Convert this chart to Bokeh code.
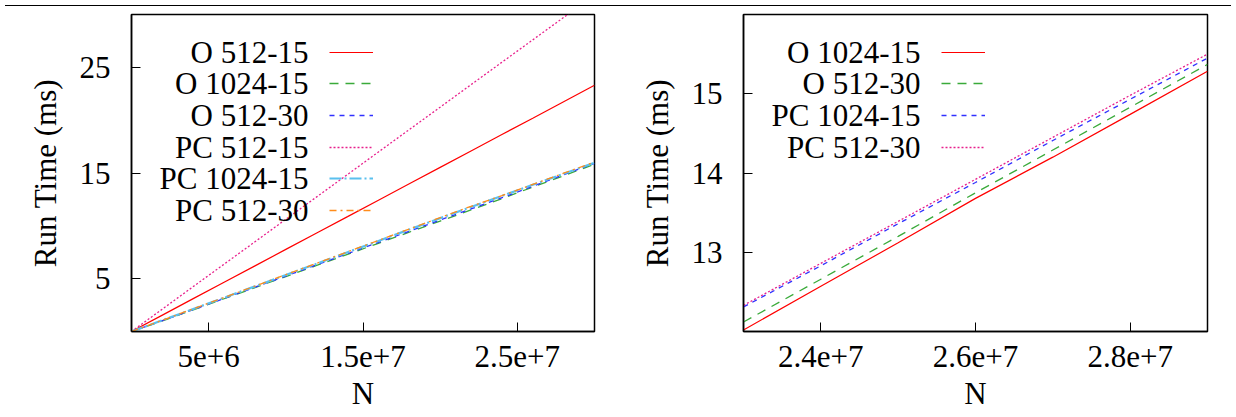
from bokeh.plotting import figure
from bokeh.models import FixedTicker, Label, Legend, LegendItem, Div
from bokeh.layouts import row, column
from bokeh.core.properties import value
from bokeh.embed import file_html
from bokeh.resources import INLINE

# ---------------- data (left panel) ----------------
n_left = [0, 2e6, 4e6, 6e6, 8e6, 1e7, 1.2e7, 1.4e7, 1.6e7, 1.8e7, 2e7, 2.2e7, 2.4e7, 2.6e7, 2.8e7, 3e7]
left_o_512_15 = [0, 1.55, 3.11, 4.66, 6.21, 7.77, 9.32, 10.87, 12.43, 13.98, 15.53, 17.09, 18.64, 20.19, 21.75, 23.3]
left_o_1024_15 = [0, 1.0, 2.05, 3.1, 4.15, 5.2, 6.25, 7.3, 8.35, 9.4, 10.45, 11.5, 12.57, 13.67, 14.74, 15.83]
left_o_512_30 = [0, 1.02, 2.07, 3.13, 4.19, 5.25, 6.31, 7.37, 8.43, 9.49, 10.55, 11.6, 12.66, 13.75, 14.83, 15.91]
left_pc_512_15 = [0, 2.12, 4.25, 6.37, 8.49, 10.62, 12.74, 14.86, 16.99, 19.11, 21.23, 23.36, 25.48, 27.6, 29.72, 31.85]
left_pc_1024_15 = [0, 1.06, 2.13, 3.2, 4.27, 5.35, 6.42, 7.5, 8.57, 9.65, 10.72, 11.79, 12.83, 13.88, 14.93, 15.97]
left_pc_512_30 = [0, 1.07, 2.15, 3.22, 4.3, 5.38, 6.46, 7.54, 8.62, 9.7, 10.78, 11.85, 12.86, 13.92, 14.98, 16.03]
left_names = ["O 512-15", "O 1024-15", "O 512-30", "PC 512-15", "PC 1024-15", "PC 512-30"]
left_xticks = [5000000, 15000000, 25000000]
left_xtick_labels = ["5e+6", "1.5e+7", "2.5e+7"]
left_yticks = [5, 15, 25]

# ---------------- data (right panel) ----------------
n_right = [2.3e7, 2.4e7, 2.5e7, 2.6e7, 2.7e7, 2.8e7, 2.9e7]
right_o_1024_15 = [12.02, 12.57, 13.12, 13.68, 14.2, 14.74, 15.285]
right_o_512_30 = [12.12, 12.66, 13.2, 13.75, 14.29, 14.83, 15.37]
right_pc_1024_15 = [12.31, 12.83, 13.36, 13.88, 14.41, 14.93, 15.45]
right_pc_512_30 = [12.33, 12.86, 13.39, 13.92, 14.45, 14.98, 15.5]
right_names = ["O 1024-15", "O 512-30", "PC 1024-15", "PC 512-30"]
right_xticks = [24000000, 26000000, 28000000]
right_xtick_labels = ["2.4e+7", "2.6e+7", "2.8e+7"]
right_yticks = [13, 14, 15]

FONT = "Liberation Serif"
FS = "31px"


def make_fig(xr, yr, xticks, xlabels, yticks, frame_w, border_left, border_right):
    p = figure(frame_width=frame_w, frame_height=317, x_range=xr, y_range=yr,
               output_backend="svg", toolbar_location=None,
               min_border_left=border_left, min_border_right=border_right,
               min_border_top=3, min_border_bottom=80)
    p.grid.visible = False
    p.outline_line_color = "black"
    p.outline_line_width = 1.5
    p.outline_line_alpha = 1.0
    p.xaxis.ticker = FixedTicker(ticks=xticks)
    p.xaxis.major_label_overrides = {t: l for t, l in zip(xticks, xlabels)}
    p.yaxis.ticker = FixedTicker(ticks=yticks)
    p.xaxis.axis_label = "N"
    p.yaxis.axis_label = "Run Time (ms)"
    for ax in (p.xaxis[0], p.yaxis[0]):
        ax.major_tick_in = 9
        ax.major_tick_out = 0
        ax.minor_tick_in = 0
        ax.minor_tick_out = 0
        ax.axis_line_width = 1.5
        ax.axis_line_color = "black"
        ax.major_tick_line_color = "black"
        ax.major_tick_line_width = 1
        ax.major_label_text_font = FONT
        ax.major_label_text_font_size = FS
        ax.major_label_text_color = "black"
        ax.axis_label_text_font = FONT
        ax.axis_label_text_font_size = FS
        ax.axis_label_text_font_style = "normal"
        ax.axis_label_text_color = "black"
    p.xaxis.major_label_standoff = 14
    p.xaxis.axis_label_standoff = 6
    p.yaxis.major_label_standoff = 21
    p.yaxis.axis_label_standoff = 14
    return p


def add_key(p, names, renderers):
    for i, (name, r) in enumerate(zip(names, renderers)):
        yc = 279.3 - 31.6 * i
        p.add_layout(Label(x=177, y=yc, x_units="screen", y_units="screen",
                           text=name, text_align="right", text_baseline="middle",
                           text_font=FONT, text_font_size=FS, text_color="black"))
        lg = Legend(items=[LegendItem(label=value(" "), renderers=[r])],
                    location=(197.5, yc - 5), glyph_width=44, glyph_height=10,
                    label_height=10, label_width=1, label_standoff=0,
                    label_text_font_size="1px", padding=0, margin=0, spacing=0,
                    border_line_alpha=0, background_fill_alpha=0)
        p.add_layout(lg)


styles = [
    dict(line_color="#ff0000", line_width=1.2, line_dash="solid"),
    dict(line_color="#3aaa3a", line_width=1.3, line_dash="9 7"),
    dict(line_color="#3030ff", line_width=1.3, line_dash="5 5"),
    dict(line_color="#e8208c", line_width=1.3, line_dash="2 2"),
    dict(line_color="#5ac0ee", line_width=2.2, line_dash="12 3 2 3"),
    dict(line_color="#ff8c1a", line_width=1.3, line_dash="7 4 2 4"),
]

p1 = make_fig((0, 3e7), (0, 30), left_xticks, left_xtick_labels, left_yticks, 463, 131, 24)
left_series = [left_o_512_15, left_o_1024_15, left_o_512_30, left_pc_512_15, left_pc_1024_15, left_pc_512_30]
r1 = [p1.line(n_left, ys, **st) for ys, st in zip(left_series, styles)]
add_key(p1, left_names, r1)

p2 = make_fig((2.3e7, 2.9e7), (12, 16), right_xticks, right_xtick_labels, right_yticks, 464, 125, 19)
right_series = [right_o_1024_15, right_o_512_30, right_pc_1024_15, right_pc_512_30]
right_styles = [styles[0], styles[1], styles[2], styles[3]]
r2 = [p2.line(n_right, ys, **st) for ys, st in zip(right_series, right_styles)]
add_key(p2, right_names, r2)

rule = Div(text="", width=1226, height=1, styles={"background-color": "black"})
layout = column(rule, row(p1, p2))

open("out.html", "w").write(file_html(layout, INLINE))
